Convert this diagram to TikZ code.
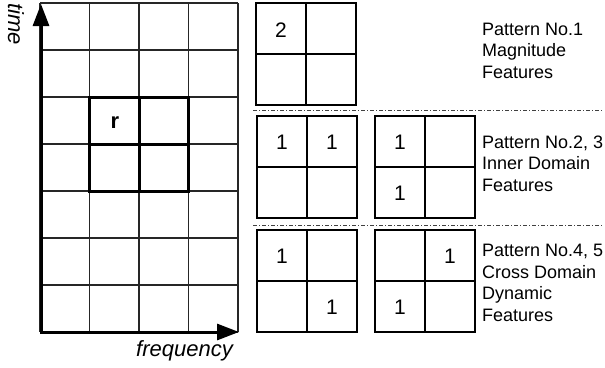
\documentclass[tikz,border=0pt]{standalone}
\usepackage{fontspec}
\setmainfont{Liberation Sans}
\usetikzlibrary{arrows.meta}
\begin{document}
\begin{tikzpicture}[x=1pt,y=-1pt,
  gridline/.style={line width=1.2pt,black!85},
  thickline/.style={line width=3pt,black},
  quadline/.style={line width=2.8pt,black},
  axisline/.style={line width=3pt,black,line join=miter,
    {Triangle[length=22pt,width=16pt]}-{Triangle[length=22pt,width=16pt]}},
  sepline/.style={line width=1pt,black!75,dash pattern=on 4pt off 2pt on 1pt off 2pt},
  digit/.style={font=\fontsize{21}{24}\selectfont,inner sep=0pt},
  label/.style={font=\fontsize{18}{21.5}\selectfont,align=left,anchor=base west,inner sep=0pt},
  axlabel/.style={font=\fontsize{22}{26}\selectfont\itshape,inner sep=0pt},
  quad/.pic={
    \draw[quadline] (0,0) rectangle (100,102);
    \draw[quadline] (50,0) -- (50,102);
    \draw[quadline] (0,51) -- (100,51);
  }]
\useasboundingbox (0,0) rectangle (605,367);
% big grid
\foreach \i in {0,...,4} \draw[gridline] ({40+49.5*\i},3) -- ({40+49.5*\i},332);
\foreach \j in {0,...,7} \draw[gridline] (40,{3+47*\j}) -- (238,{3+47*\j});
% thick 2x2 box
\draw[thickline] (89.5,97) rectangle (188.5,191);
\draw[thickline] (139,97) -- (139,191);
\draw[thickline] (89.5,144) -- (188.5,144);
\node[font=\fontsize{22}{26}\selectfont\bfseries,inner sep=0pt] (r) at (115,123) {r};
% axes
\coordinate (T) at (41,4);
\coordinate (O) at (41,332);
\coordinate (F) at (239,332);
\draw[axisline] (T) -- (O) -- (F);
\node[axlabel,rotate=-90] (time) at (16,24) {time};
\node[axlabel,anchor=base east] (freq) at (233,356) {frequency};
% patterns
\pic at (256,3) {quad};
\pic at (257,116) {quad};
\pic at (375,116) {quad};
\pic at (257,230) {quad};
\pic at (375,230) {quad};
\node[digit] (d1) at (281,30) {2};
\node[digit] (d2a) at (282,142) {1};
\node[digit] (d2b) at (332,142) {1};
\node[digit] (d3a) at (400,142) {1};
\node[digit] (d3b) at (400,193) {1};
\node[digit] (d4a) at (282,256) {1};
\node[digit] (d4b) at (332,307) {1};
\node[digit] (d5a) at (450,256) {1};
\node[digit] (d5b) at (400,307) {1};
% separators
\coordinate (s1a) at (253,110); \coordinate (s1b) at (602,110);
\coordinate (s2a) at (253,225); \coordinate (s2b) at (602,225);
\draw[sepline] (s1a) -- (s1b);
\draw[sepline] (s2a) -- (s2b);
% labels (anchored at the baseline of the last line)
\node[label] (l1) at (482,78) {Pattern No.1\\Magnitude\\Features};
\node[label] (l2) at (482,191) {Pattern No.2, 3\\Inner Domain\\Features};
\node[label] (l3) at (482,321) {Pattern No.4, 5\\Cross Domain\\Dynamic\\Features};
\end{tikzpicture}
\end{document}
